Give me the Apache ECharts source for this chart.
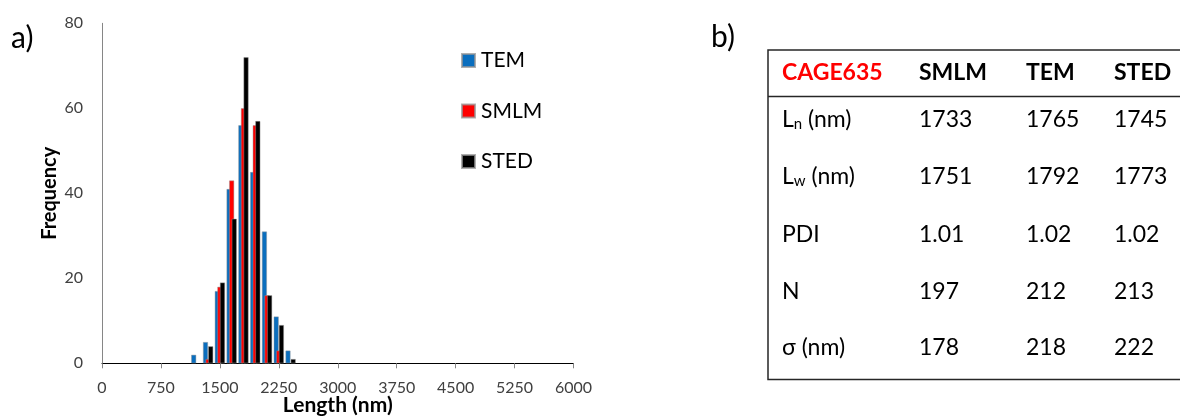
<!DOCTYPE html>
<html>
<head>
<meta charset="utf-8">
<title>CAGE635 length distribution</title>
<script src="https://cdn.jsdelivr.net/npm/echarts@6/dist/echarts.min.js"></script>
<style>
  html, body { margin: 0; padding: 0; background: #fff; }
  #chart { width: 1180px; height: 416px; }
</style>
</head>
<body>
<div id="chart"></div>
<script>
// Histogram bins (bin centre, nm) and counts per method
const binCenters = [1200, 1350, 1500, 1650, 1800, 1950, 2100, 2250, 2400];
const temFreq  = [2, 5, 17, 41, 56, 45, 31, 11, 3];
const smlmFreq = [0, 1, 18, 43, 60, 56, 16, 3, 0];
const stedFreq = [0, 4, 19, 34, 72, 57, 16, 9, 1];

const seriesNames = ['TEM', 'SMLM', 'STED'];
const seriesColors = ['#0A6EBE', '#FF0000', '#000000'];

// Summary table
const tableHeader = ['CAGE635', 'SMLM', 'TEM', 'STED'];
const rowLabels = ['L{sub|n} (nm)', 'L{sub|w} (nm)', 'PDI', 'N', 'σ (nm)'];
const smlmStats = ['1733', '1751', '1.01', '197', '178'];
const temStats  = ['1765', '1792', '1.02', '212', '218'];
const stedStats = ['1745', '1773', '1.02', '213', '222'];

const FONT = 'Lato';
const chart = echarts.init(document.getElementById('chart'), null, { renderer: 'canvas' });

function pairs(freq) {
  return binCenters.map((c, i) => [c, freq[i] === 0 ? null : freq[i]]);
}

const barSeries = [temFreq, smlmFreq, stedFreq].map((freq, k) => ({
  name: seriesNames[k],
  type: 'bar',
  data: pairs(freq),
  barWidth: 5,
  barGap: '-48%',
  itemStyle: {
    color: seriesColors[k],
    borderColor: 'rgba(150,150,150,0.75)',
    borderWidth: 0.6
  },
  emphasis: { disabled: true },
  animation: false
}));

// Table drawing: frame lines + text cells
const colX = [782, 919, 1026, 1114];
const headerY = 73;
const rowY = [120, 177, 235, 292, 348];
const tableEls = [];

tableEls.push({
  type: 'rect',
  shape: { x: 768, y: 50, width: 430, height: 329.5 },
  style: { fill: 'none', stroke: '#262626', lineWidth: 1.5 },
  silent: true
});
tableEls.push({
  type: 'line',
  shape: { x1: 768, y1: 96.5, x2: 1180, y2: 96.5 },
  style: { stroke: '#262626', lineWidth: 1.5 },
  silent: true
});

tableHeader.forEach((h, i) => {
  tableEls.push({
    type: 'text',
    x: colX[i], y: headerY,
    style: {
      text: h,
      font: 'bold 23px ' + FONT,
      fill: i === 0 ? '#FF0000' : '#000000',
      textAlign: 'left',
      textVerticalAlign: 'middle'
    },
    silent: true
  });
});

const statCols = [smlmStats, temStats, stedStats];
rowLabels.forEach((lab, r) => {
  tableEls.push({
    type: 'text',
    x: colX[0], y: rowY[r],
    style: {
      text: lab,
      fontFamily: FONT,
      fontSize: 23,
      fill: '#000000',
      textAlign: 'left',
      textVerticalAlign: 'middle',
      rich: {
        sub: { fontFamily: FONT, fontSize: 15, fill: '#000', verticalAlign: 'bottom', lineHeight: 14, padding: [18, 0, 0, 0] }
      }
    },
    silent: true
  });
  statCols.forEach((col, c) => {
    tableEls.push({
      type: 'text',
      x: colX[c + 1], y: rowY[r],
      style: {
        text: col[r],
        font: '23px ' + FONT,
        fill: '#000000',
        textAlign: 'left',
        textVerticalAlign: 'middle'
      },
      silent: true
    });
  });
});

// Panel letters
tableEls.push({
  type: 'text', x: 11, y: 38,
  style: { text: 'a)', font: '30px ' + FONT, fill: '#000', textVerticalAlign: 'middle' },
  silent: true
});
tableEls.push({
  type: 'text', x: 711, y: 37,
  style: { text: 'b)', font: '30px ' + FONT, fill: '#000', textVerticalAlign: 'middle' },
  silent: true
});

chart.setOption({
  animation: false,
  backgroundColor: '#ffffff',
  textStyle: { fontFamily: FONT },
  grid: {
    left: 102, right: 606.5, top: 23.3, bottom: 52.7,
    containLabel: false,
    outerBoundsMode: 'none'
  },
  legend: {
    orient: 'vertical',
    left: 456,
    top: 45,
    itemWidth: 13,
    itemHeight: 13,
    itemGap: 29.5,
    icon: 'rect',
    selectedMode: false,
    data: seriesNames,
    textStyle: { fontFamily: FONT, fontSize: 21, color: '#000', lineHeight: 14, padding: [0, 0, 0, 1] }
  },
  xAxis: {
    type: 'value',
    min: 0,
    max: 6000,
    interval: 750,
    name: 'Length (nm)',
    nameLocation: 'middle',
    nameGap: 31,
    nameMoveOverlap: false,
    nameTextStyle: { fontFamily: FONT, fontSize: 21, fontWeight: 'bold', color: '#000' },
    axisLine: { show: true, lineStyle: { color: '#000', width: 1 } },
    axisTick: { show: true, length: 5, lineStyle: { color: '#868686' } },
    axisLabel: {
      fontFamily: FONT, fontSize: 16, color: '#404040', margin: 17,
      formatter: v => String(v)
    },
    splitLine: { show: false }
  },
  yAxis: {
    type: 'value',
    min: 0,
    max: 80,
    interval: 20,
    name: 'Frequency',
    nameLocation: 'middle',
    nameGap: 42,
    nameMoveOverlap: false,
    nameTextStyle: { fontFamily: FONT, fontSize: 20, fontWeight: 'bold', color: '#000' },
    axisLine: { show: true, lineStyle: { color: '#868686', width: 1 } },
    axisTick: { show: false },
    axisLabel: { fontFamily: FONT, fontSize: 16, color: '#404040', margin: 19 },
    splitLine: { show: false }
  },
  series: barSeries,
  graphic: tableEls
});
</script>
</body>
</html>
